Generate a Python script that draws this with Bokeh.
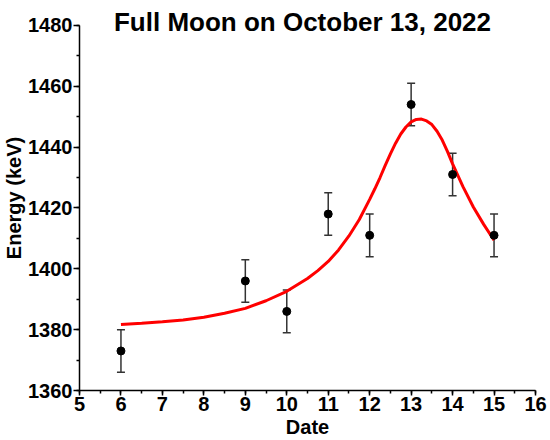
from bokeh.plotting import figure
from bokeh.models import Range1d, SingleIntervalTicker, Label, Whisker, TeeHead, ColumnDataSource
from bokeh.embed import file_html
from bokeh.resources import INLINE

# data
dates = [6, 9, 10, 11, 12, 13, 14, 15]
energy = [1373, 1396, 1386, 1418, 1411, 1454, 1431, 1411]
energy_err = [7, 7, 7, 7, 7, 7, 7, 7]

fit_x = [6.0, 6.5, 7.0, 7.5, 8.0, 8.5, 9.0, 9.5, 10.0, 10.5, 10.75, 11.0, 11.25,
         11.5, 11.75, 12.0, 12.125, 12.25, 12.375, 12.5, 12.625, 12.75, 12.875,
         13.0, 13.125, 13.25, 13.375, 13.5, 13.625, 13.75, 13.875, 14.0, 14.25,
         14.5, 14.75, 15.0]
fit_y = [1381.7, 1382.1, 1382.6, 1383.2, 1384.1, 1385.4, 1387.0, 1389.5, 1392.6,
         1396.8, 1399.4, 1402.4, 1406.2, 1410.8, 1416.2, 1422.8, 1426.3, 1430.0,
         1434.0, 1437.8, 1441.3, 1444.3, 1446.6, 1448.3, 1449.1, 1449.2, 1448.6,
         1447.4, 1445.2, 1442.3, 1438.6, 1434.5, 1427.0, 1420.3, 1414.6, 1409.4]

x_axis_range = (5, 16)
y_axis_range = (1360, 1480)

title_text = "Full Moon on October 13, 2022"
x_label = "Date"
y_label = "Energy (keV)"

FONT = "Liberation Sans"

# frame extends a little above the top of the y axis so the title (drawn inside
# the frame) is not clipped; the axis itself is bounded to 1360-1480
TOP_PAD = 5
FRAME_H = 440 - 48 - TOP_PAD
AXIS_PX = 367
y_top = y_axis_range[0] + (y_axis_range[1] - y_axis_range[0]) * FRAME_H / AXIS_PX

p = figure(width=550, height=440, output_backend="svg", toolbar_location=None,
           x_range=Range1d(*x_axis_range), y_range=Range1d(y_axis_range[0], y_top),
           min_border_left=78, min_border_right=15, min_border_top=TOP_PAD,
           min_border_bottom=48)
p.grid.visible = False
p.outline_line_color = None
p.background_fill_color = "white"
p.border_fill_color = "white"

p.xaxis.ticker = SingleIntervalTicker(interval=1, num_minor_ticks=2)
p.yaxis.ticker = SingleIntervalTicker(interval=20, num_minor_ticks=2)
p.yaxis.bounds = y_axis_range
for ax in (p.xaxis, p.yaxis):
    ax.axis_line_color = "black"
    ax.axis_line_width = 1.5
    ax.major_tick_line_color = "black"
    ax.major_tick_line_width = 1.5
    ax.minor_tick_line_color = "black"
    ax.minor_tick_line_width = 1.5
    ax.major_tick_in = 0
    ax.minor_tick_in = 0
    ax.minor_tick_out = 3
    ax.major_label_text_font = FONT
    ax.major_label_text_font_style = "bold"
    ax.major_label_text_font_size = "20px"
    ax.major_label_text_color = "black"
    ax.major_label_standoff = 1
    ax.axis_label_text_font = FONT
    ax.axis_label_text_font_style = "bold"
    ax.axis_label_text_color = "black"
p.xaxis.major_tick_out = 5
p.yaxis.major_tick_out = 6
p.xaxis.axis_label = x_label
p.xaxis.axis_label_text_font_size = "20px"
p.xaxis.axis_label_standoff = 2
p.yaxis.axis_label = y_label
p.yaxis.axis_label_text_font_size = "20px"
p.yaxis.axis_label_standoff = 0

# fit curve
p.line(fit_x, fit_y, line_color="#ff0000", line_width=3)

# error bars and points
upper = [e + d for e, d in zip(energy, energy_err)]
lower = [e - d for e, d in zip(energy, energy_err)]
src = ColumnDataSource(dict(x=dates, y=energy, upper=upper, lower=lower))
w = Whisker(base="x", upper="upper", lower="lower", source=src,
            line_color="#333333", line_width=1.5,
            upper_head=TeeHead(size=8, line_color="#333333", line_width=1.5),
            lower_head=TeeHead(size=8, line_color="#333333", line_width=1.5))
p.add_layout(w)
p.scatter("x", "y", source=src, size=8, fill_color="black", line_color="black")

# title inside the plot area
p.add_layout(Label(x=sum(x_axis_range) / 2, y=y_axis_range[1], x_offset=-5, y_offset=3,
                   text=title_text, text_font=FONT, text_font_style="bold",
                   text_font_size="26px", text_align="center",
                   text_baseline="alphabetic", text_color="black"))

open("out.html", "w").write(file_html(p, INLINE))
